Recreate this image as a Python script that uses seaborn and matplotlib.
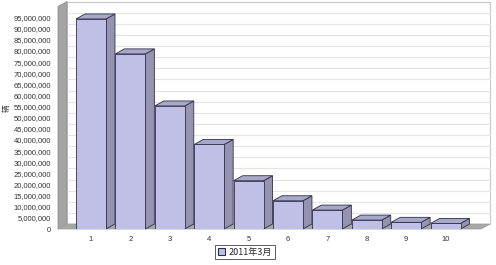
import matplotlib
matplotlib.use("Agg")
import matplotlib.pyplot as plt
from matplotlib.patches import Polygon, Rectangle
from matplotlib.ticker import FuncFormatter
import seaborn as sns
import pandas as pd

categories = ["1", "2", "3", "4", "5", "6", "7", "8", "9", "10"]
values = [94400000, 78700000, 55300000, 38000000, 21700000,
          12700000, 8500000, 4000000, 3000000, 2500000]
series_name = "2011年3月"
y_label = "辆"
y_ticks = list(range(0, 95000001, 5000000))

sns.set_theme(style="white")
plt.rcParams["font.family"] = ["Liberation Sans", "Noto Sans CJK SC", "DejaVu Sans"]

front = "#C0C0E6"
side = "#9494B0"
top = "#A8A8C8"
edge = "#2E2E4A"

fig = plt.figure(figsize=(4.96, 2.65), dpi=100)
ax = fig.add_axes([58/496, 36/265, 423/496, 222.5/265])

df = pd.DataFrame({"cat": categories, "val": values})
sns.barplot(data=df, x="cat", y="val", color=front, width=0.76,
            edgecolor=edge, linewidth=0.6, saturation=1, ax=ax, zorder=5)

xmin, xmax = -0.838, 9.9
ymax = 100000000
ax.set_xlim(xmin, xmax)
ax.set_ylim(0, ymax)
dx = 9 / 39.4
dy = 5 / 2.225 * 1e6

# back wall
ax.add_patch(Polygon([(xmin+dx, dy), (xmax+dx, dy), (xmax+dx, ymax+dy), (xmin+dx, ymax+dy)],
                     closed=True, facecolor="white", edgecolor="#C8C8C8", lw=0.8,
                     clip_on=False, zorder=0))
for t in y_ticks[1:]:
    ax.plot([xmin+dx, xmax+dx], [t+dy, t+dy], color="#E4E4E4", lw=0.8,
            clip_on=False, zorder=1)
# left wall
ax.add_patch(Polygon([(xmin, 0), (xmin+dx, dy), (xmin+dx, ymax+dy), (xmin, ymax)],
                     closed=True, facecolor="#A4A4A4", edgecolor="#8A8A8A", lw=0.5,
                     clip_on=False, zorder=2))
# floor
ax.add_patch(Polygon([(xmin, 0), (xmax, 0), (xmax+dx, dy), (xmin+dx, dy)],
                     closed=True, facecolor="#A8A8A8", edgecolor="#999999", lw=0.5,
                     clip_on=False, zorder=2))

for p in ax.patches[:len(values)]:
    x0 = p.get_x(); w = p.get_width(); h = p.get_height()
    ax.add_patch(Polygon([(x0+w, 0), (x0+w+dx, dy), (x0+w+dx, h+dy), (x0+w, h)],
                         closed=True, facecolor=side, edgecolor=edge, lw=0.6,
                         clip_on=False, zorder=4))
    ax.add_patch(Polygon([(x0, h), (x0+w, h), (x0+w+dx, h+dy), (x0+dx, h+dy)],
                         closed=True, facecolor=top, edgecolor=edge, lw=0.6,
                         clip_on=False, zorder=4))

for s in ax.spines.values():
    s.set_visible(False)
ax.set_yticks(y_ticks)
ax.yaxis.set_major_formatter(FuncFormatter(lambda v, _: f"{int(v):,}"))
ax.tick_params(axis="both", length=0, labelsize=5.5, labelcolor="#333333")
ax.tick_params(axis="y", pad=5)
ax.tick_params(axis="x", pad=5)
ax.set_xlabel("")
ax.set_ylabel("")
ax.grid(False)
ax.set_facecolor("none")

fig.text(7/496, 1-108/265, y_label, rotation=90, fontsize=5.5, ha="center", va="center",
         color="#333333", family=["Noto Sans CJK SC", "DejaVu Sans"])

# legend
lg = ax.legend(handles=[Rectangle((0, 0), 1, 1, facecolor=front, edgecolor=edge, lw=0.8)],
               labels=[series_name], loc="center", bbox_to_anchor=(245/496, 1-252/265),
               bbox_transform=fig.transFigure, fontsize=6.5, frameon=True,
               handlelength=0.8, handleheight=0.8, handletextpad=0.4,
               borderpad=0.3, fancybox=False)
lg.get_frame().set_edgecolor("#333333")
lg.get_frame().set_linewidth(0.7)
for t in lg.get_texts():
    t.set_family(["Noto Sans CJK SC", "DejaVu Sans"])

fig.savefig("out.png", dpi=100, facecolor="white")
